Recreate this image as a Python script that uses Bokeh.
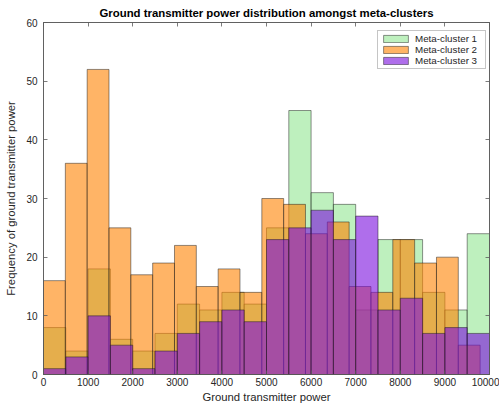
import numpy as np
from bokeh.plotting import figure
from bokeh.models import (LinearAxis, Range1d, Legend, LegendItem, FixedTicker,
                          CustomJSTickFormatter)
from bokeh.embed import file_html
from bokeh.resources import INLINE

# Histogram counts per bin (20 bins per meta-cluster)
cluster1_counts = [8, 4, 18, 6, 4, 7, 12, 11, 14, 12, 25, 45, 31, 29, 11, 23, 23, 14, 11, 24]
cluster2_counts = [16, 36, 52, 25, 17, 19, 22, 15, 18, 14, 30, 29, 24, 26, 15, 14, 23, 19, 20, 5]
cluster3_counts = [1, 3, 10, 5, 1, 4, 7, 9, 11, 9, 23, 25, 28, 23, 27, 11, 13, 7, 8, 7]

# Bin limits of each histogram
cluster1_limits = (0, 10000)
cluster2_limits = (0, 9790)
cluster3_limits = (0, 10000)

labels = ["Meta-cluster 1", "Meta-cluster 2", "Meta-cluster 3"]
x_ticks = [0, 1000, 2000, 3000, 4000, 5000, 6000, 7000, 8000, 9000, 10000]
y_ticks = [0, 10, 20, 30, 40, 50, 60]

FONT = "Liberation Sans"
TEXT = "#262626"
AXIS = "#5a5a5a"

p = figure(width=499, height=406,
           x_range=Range1d(0, 10000), y_range=Range1d(0, 60),
           output_backend="svg", toolbar_location=None,
           title="Ground transmitter power distribution amongst meta-clusters",
           x_axis_label="Ground transmitter power",
           y_axis_label="Frequency of ground transmitter power",
           min_border_left=43, min_border_right=10,
           min_border_top=22, min_border_bottom=32)

p.title.text_font = FONT
p.title.text_font_size = "11.4px"
p.title.text_font_style = "bold"
p.title.text_color = "#000000"
p.title.align = "center"
p.title.offset = 0
p.title.standoff = 7

p.xgrid.visible = False
p.ygrid.visible = False
p.outline_line_color = AXIS
p.outline_line_width = 0.8
p.background_fill_color = "white"
p.border_fill_color = "white"


def style_axis(ax):
    ax.major_tick_in = 4
    ax.major_tick_out = 0
    ax.minor_tick_line_color = None
    ax.axis_line_color = AXIS
    ax.axis_line_width = 0.8
    ax.major_tick_line_color = AXIS
    ax.major_tick_line_width = 0.8
    ax.major_label_text_font = FONT
    ax.major_label_text_font_size = "10px"
    ax.major_label_text_color = TEXT
    ax.axis_label_text_font = FONT
    ax.axis_label_text_font_size = "11.3px"
    ax.axis_label_text_font_style = "normal"
    ax.axis_label_text_color = TEXT


p.xaxis.ticker = FixedTicker(ticks=x_ticks)
p.yaxis.ticker = FixedTicker(ticks=y_ticks)
style_axis(p.xaxis[0])
style_axis(p.yaxis[0])
p.xaxis.major_label_standoff = 3
p.xaxis.axis_label_standoff = 2
p.yaxis.major_label_standoff = 6
p.yaxis.axis_label_standoff = 6

# Box axes with inward ticks on top and right, without tick labels
blank = CustomJSTickFormatter(code="return ''")
top_axis = LinearAxis(ticker=FixedTicker(ticks=x_ticks), formatter=blank,
                      major_label_standoff=0)
right_axis = LinearAxis(ticker=FixedTicker(ticks=y_ticks), formatter=blank,
                        major_label_standoff=0)
style_axis(top_axis)
style_axis(right_axis)
p.add_layout(top_axis, "above")
p.add_layout(right_axis, "right")

series = [
    (cluster1_counts, cluster1_limits, "#93e693"),
    (cluster2_counts, cluster2_limits, "#ff8200"),
    (cluster3_counts, cluster3_limits, "#7a0ede"),
]

renderers = []
for counts, limits, color in series:
    edges = np.linspace(limits[0], limits[1], len(counts) + 1)
    r = p.quad(left=edges[:-1], right=edges[1:], bottom=0, top=counts,
               fill_color=color, fill_alpha=0.6,
               line_color="#1a1a1a", line_alpha=0.6, line_width=0.8)
    renderers.append(r)

legend = Legend(items=[LegendItem(label=l, renderers=[r]) for l, r in zip(labels, renderers)],
                location=(334, 305))
legend.margin = 0
legend.padding = 2
legend.spacing = 0
legend.glyph_width = 31
legend.glyph_height = 9
legend.label_height = 10
legend.label_width = 68
legend.label_standoff = 4
legend.label_text_font = FONT
legend.label_text_font_size = "9.8px"
legend.label_text_color = TEXT
legend.border_line_color = "#8c8c8c"
legend.border_line_width = 0.8
legend.background_fill_color = "white"
legend.background_fill_alpha = 1.0
p.add_layout(legend)

open("out.html", "w").write(file_html(p, INLINE))
